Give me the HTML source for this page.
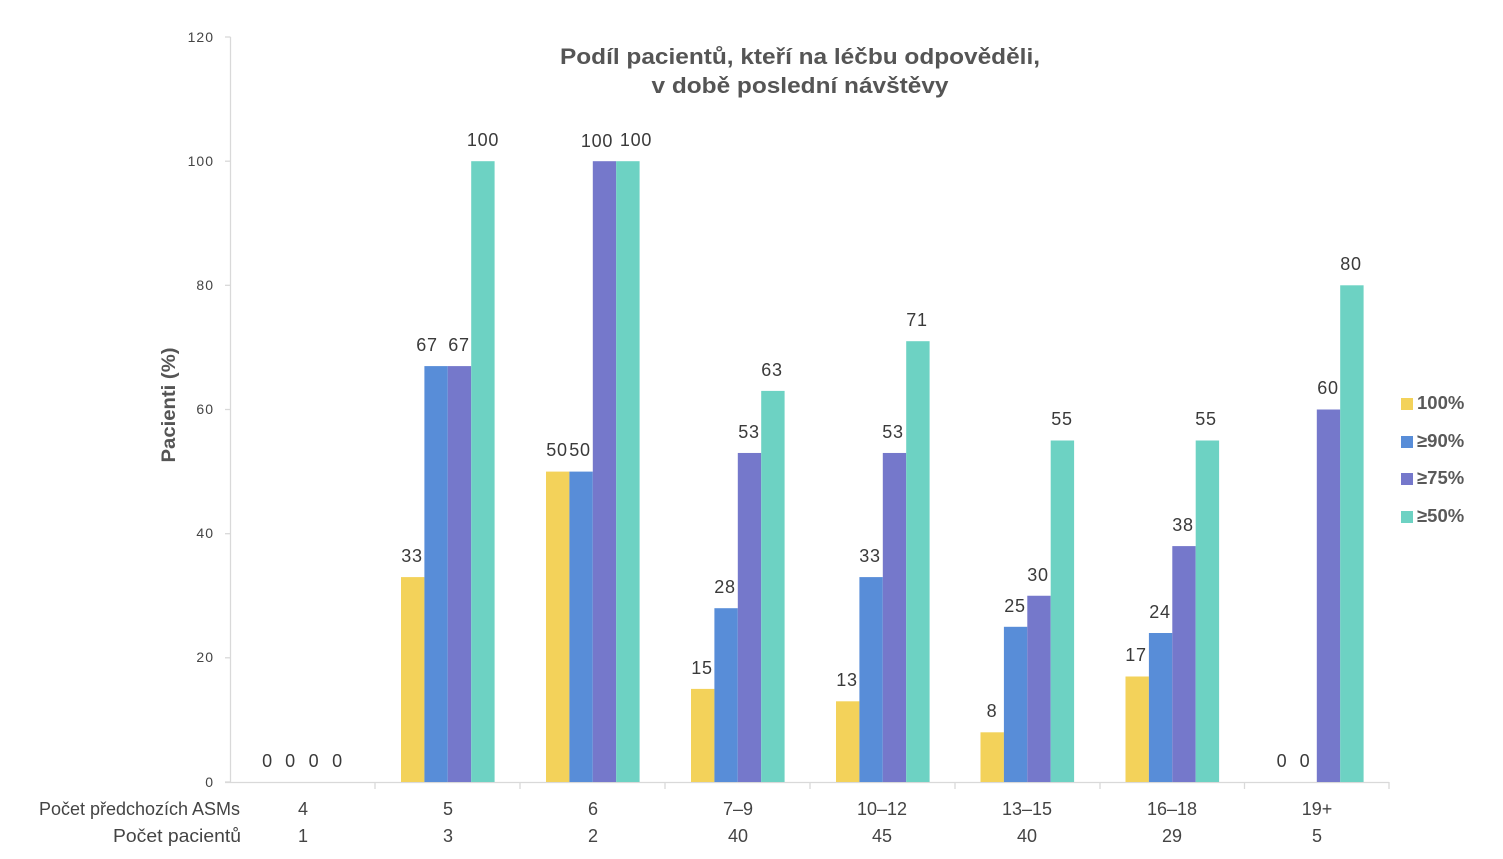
<!DOCTYPE html>
<html><head><meta charset="utf-8"><style>
html,body{margin:0;padding:0;background:#fff;}
svg{display:block;}
text{font-family:"Liberation Sans",sans-serif;}
</style></head><body>
<svg width="1503" height="859" viewBox="0 0 1503 859" xmlns="http://www.w3.org/2000/svg">
<rect width="1503" height="859" fill="#fff"/>
<!-- title -->
<text x="800" y="64" text-anchor="middle" font-size="22" font-weight="bold" fill="#555" textLength="480" lengthAdjust="spacingAndGlyphs">Podíl pacientů, kteří na léčbu odpověděli,</text>
<text x="800" y="93" text-anchor="middle" font-size="22" font-weight="bold" fill="#555" textLength="297" lengthAdjust="spacingAndGlyphs">v době poslední návštěvy</text>
<!-- y axis label -->
<text transform="translate(175,405) rotate(-90)" text-anchor="middle" font-size="19" font-weight="bold" fill="#555" textLength="115" lengthAdjust="spacingAndGlyphs">Pacienti (%)</text>
<!-- y axis -->
<g stroke="#d9d9d9" stroke-width="1.3">
<line x1="230.5" y1="37" x2="230.5" y2="782"/>
<line x1="225" y1="37" x2="230.5" y2="37"/>
<line x1="225" y1="161.2" x2="230.5" y2="161.2"/>
<line x1="225" y1="285.3" x2="230.5" y2="285.3"/>
<line x1="225" y1="409.5" x2="230.5" y2="409.5"/>
<line x1="225" y1="533.7" x2="230.5" y2="533.7"/>
<line x1="225" y1="657.8" x2="230.5" y2="657.8"/>
<line x1="225" y1="782" x2="230.5" y2="782"/>
<line x1="225" y1="782.5" x2="1389" y2="782.5"/>
<line x1="375" y1="782" x2="375" y2="789"/>
<line x1="520" y1="782" x2="520" y2="789"/>
<line x1="665" y1="782" x2="665" y2="789"/>
<line x1="810" y1="782" x2="810" y2="789"/>
<line x1="955" y1="782" x2="955" y2="789"/>
<line x1="1100" y1="782" x2="1100" y2="789"/>
<line x1="1244.5" y1="782" x2="1244.5" y2="789"/>
<line x1="1389" y1="782" x2="1389" y2="789"/>
</g>
<g font-size="14" fill="#444" text-anchor="end" letter-spacing="1">
<text x="214" y="42">120</text>
<text x="214" y="166">100</text>
<text x="214" y="290">80</text>
<text x="214" y="414">60</text>
<text x="214" y="538">40</text>
<text x="214" y="662">20</text>
<text x="214" y="787">0</text>
</g>
<!-- bars -->
<g>
<rect x="401" y="577.1" width="23.4" height="204.9" fill="#F3D25A"/>
<rect x="424.4" y="366.1" width="23.4" height="415.9" fill="#588DD8"/>
<rect x="447.8" y="366.1" width="23.4" height="415.9" fill="#7578CB"/>
<rect x="471.2" y="161.2" width="23.4" height="620.8" fill="#6DD2C3"/>
<rect x="546" y="471.6" width="23.4" height="310.4" fill="#F3D25A"/>
<rect x="569.4" y="471.6" width="23.4" height="310.4" fill="#588DD8"/>
<rect x="592.8" y="161.2" width="23.4" height="620.8" fill="#7578CB"/>
<rect x="616.2" y="161.2" width="23.4" height="620.8" fill="#6DD2C3"/>
<rect x="691" y="688.9" width="23.4" height="93.1" fill="#F3D25A"/>
<rect x="714.4" y="608.2" width="23.4" height="173.8" fill="#588DD8"/>
<rect x="737.8" y="452.96" width="23.4" height="329.04" fill="#7578CB"/>
<rect x="761.2" y="390.9" width="23.4" height="391.1" fill="#6DD2C3"/>
<rect x="836" y="701.3" width="23.4" height="80.7" fill="#F3D25A"/>
<rect x="859.4" y="577.1" width="23.4" height="204.9" fill="#588DD8"/>
<rect x="882.8" y="452.96" width="23.4" height="329.04" fill="#7578CB"/>
<rect x="906.2" y="341.2" width="23.4" height="440.8" fill="#6DD2C3"/>
<rect x="980.5" y="732.3" width="23.4" height="49.7" fill="#F3D25A"/>
<rect x="1003.9" y="626.8" width="23.4" height="155.2" fill="#588DD8"/>
<rect x="1027.3" y="595.75" width="23.4" height="186.25" fill="#7578CB"/>
<rect x="1050.7" y="440.5" width="23.4" height="341.5" fill="#6DD2C3"/>
<rect x="1125.5" y="676.5" width="23.4" height="105.5" fill="#F3D25A"/>
<rect x="1148.9" y="633" width="23.4" height="149" fill="#588DD8"/>
<rect x="1172.3" y="546.1" width="23.4" height="235.9" fill="#7578CB"/>
<rect x="1195.7" y="440.5" width="23.4" height="341.5" fill="#6DD2C3"/>
<rect x="1316.8" y="409.5" width="23.4" height="372.5" fill="#7578CB"/>
<rect x="1340.2" y="285.3" width="23.4" height="496.7" fill="#6DD2C3"/>
</g>
<!-- value labels -->
<g font-size="18" fill="#3a3a3a" text-anchor="middle" letter-spacing="0.7">
<text x="267.5" y="767">0</text><text x="290.5" y="767">0</text><text x="314" y="767">0</text><text x="337.5" y="767">0</text>
<text x="412" y="562">33</text><text x="427" y="351">67</text><text x="459" y="351">67</text><text x="483" y="146">100</text>
<text x="557" y="456">50</text><text x="580" y="456">50</text><text x="597" y="147">100</text><text x="636" y="146">100</text>
<text x="702" y="674">15</text><text x="725" y="593">28</text><text x="749" y="438">53</text><text x="772" y="376">63</text>
<text x="847" y="686">13</text><text x="870" y="562">33</text><text x="893" y="438">53</text><text x="917" y="326">71</text>
<text x="992" y="717">8</text><text x="1015" y="612">25</text><text x="1038" y="581">30</text><text x="1062" y="425">55</text>
<text x="1136" y="661">17</text><text x="1160" y="618">24</text><text x="1183" y="531">38</text><text x="1206" y="425">55</text>
<text x="1282" y="767">0</text><text x="1305" y="767">0</text><text x="1328" y="394">60</text><text x="1351" y="270">80</text>
</g>
<!-- category labels -->
<g font-size="18" fill="#444" text-anchor="middle">
<text x="240" y="815" text-anchor="end" textLength="201" lengthAdjust="spacingAndGlyphs">Počet předchozích ASMs</text>
<text x="241" y="842" text-anchor="end" textLength="128" lengthAdjust="spacingAndGlyphs">Počet pacientů</text>
<text x="303" y="815">4</text><text x="303" y="842">1</text>
<text x="448" y="815">5</text><text x="448" y="842">3</text>
<text x="593" y="815">6</text><text x="593" y="842">2</text>
<text x="738" y="815">7–9</text><text x="738" y="842">40</text>
<text x="882" y="815">10–12</text><text x="882" y="842">45</text>
<text x="1027" y="815">13–15</text><text x="1027" y="842">40</text>
<text x="1172" y="815">16–18</text><text x="1172" y="842">29</text>
<text x="1317" y="815">19+</text><text x="1317" y="842">5</text>
</g>
<!-- legend -->
<rect x="1401" y="398" width="12" height="12" fill="#F3D25A"/>
<rect x="1401" y="436" width="12" height="12" fill="#588DD8"/>
<rect x="1401" y="473" width="12" height="12" fill="#7578CB"/>
<rect x="1401" y="511" width="12" height="12" fill="#6DD2C3"/>
<g font-size="18.5" font-weight="bold" fill="#595959">
<text x="1417" y="409">100%</text>
<text x="1417" y="447">≥90%</text>
<text x="1417" y="484">≥75%</text>
<text x="1417" y="522">≥50%</text>
</g>
</svg>
</body></html>
